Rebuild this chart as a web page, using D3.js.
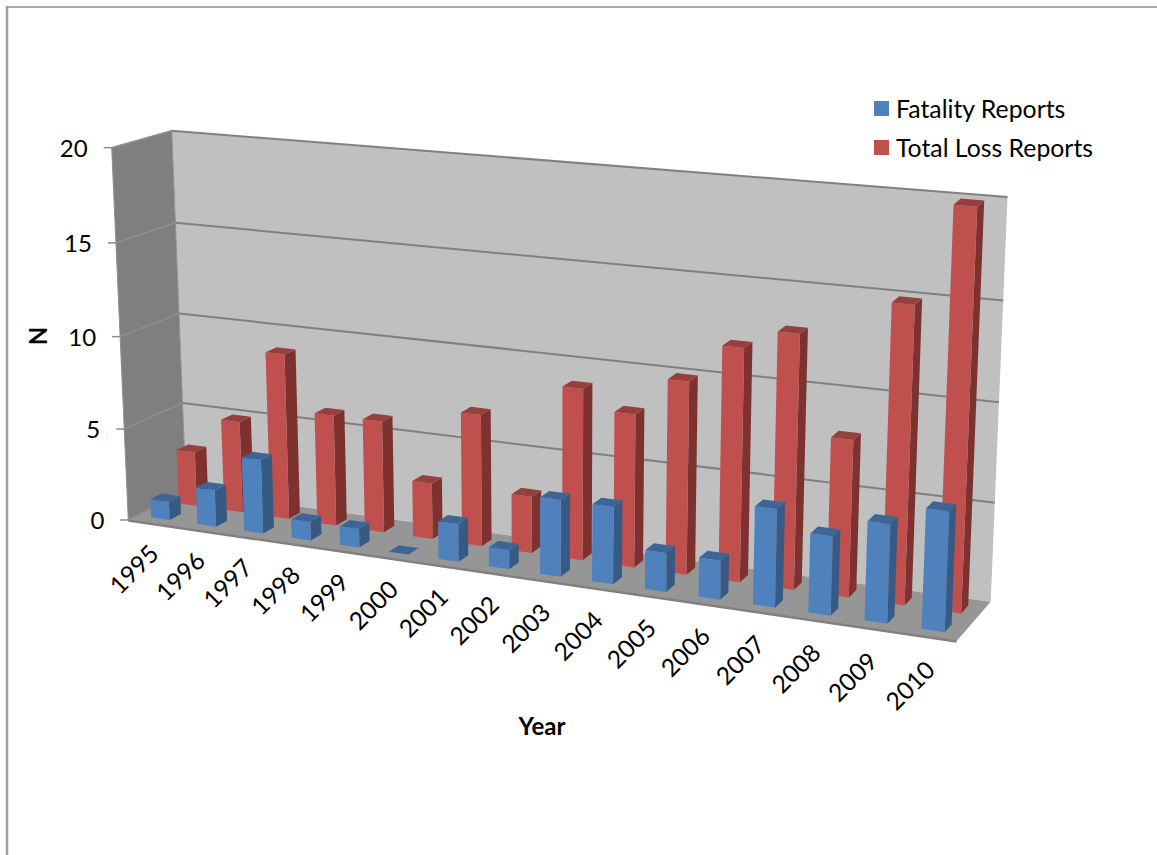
<!DOCTYPE html>
<html>
<head>
<meta charset="utf-8">
<script src="https://cdn.jsdelivr.net/npm/d3@7/dist/d3.min.js"></script>
<style>
  html, body { margin: 0; padding: 0; background: #fff; }
  svg { display: block; }
  text { font-family: Lato, "Open Sans", sans-serif; fill: #000; }
</style>
</head>
<body>
<svg id="chart" width="1157" height="855"></svg>
<script>
// Reports per year
const years = ["1995","1996","1997","1998","1999","2000","2001","2002","2003","2004","2005","2006","2007","2008","2009","2010"];
const fatalityReports = [1,2,4,1,1,0,2,1,4,4,2,2,5,4,5,6];
const totalLossReports = [3,5,9,6,6,3,7,3,9,8,10,12,13,8,15,20];
const seriesNames = ["Fatality Reports","Total Loss Reports"];
const valueTicks = [0,5,10,15,20];

const palette = {
  "Fatality Reports":   { front: "#4f81bd", side: "#375a84", top: "#3d6696" },
  "Total Loss Reports": { front: "#c0504d", side: "#7d3230", top: "#96403d" }
};

// Box corners: [x, y] keyed by left/right, bottom/top, front/back
const box = {
  lbf: [128.3, 520], lbb: [186, 491], ltf: [111.7, 147.7], ltb: [171.7, 130.7],
  rbf: [956.7, 641], rbb: [990.7, 601.7], rtf: [973, 228], rtb: [1007.5, 197]
};

// Perspective foreshortening along the category and value axes
const warpWith = k => t => t / (t + k * (1 - t));
const warp = warpWith(1.13);
const warpV = warpWith(1.03);

const lerp = (a, b, t) => [a[0] + (b[0] - a[0]) * t, a[1] + (b[1] - a[1]) * t];
function project(u, v, w) {
  const bf = lerp(box.lbf, box.rbf, u), bb = lerp(box.lbb, box.rbb, u);
  const tf = lerp(box.ltf, box.rtf, u), tb = lerp(box.ltb, box.rtb, u);
  return lerp(lerp(bf, tf, v), lerp(bb, tb, v), w);
}

const xBand = d3.scaleBand().domain(years).range([0, 1]).paddingInner(0.6).paddingOuter(0.3);
const valueScale = d3.scaleLinear().domain([0, 20]).range([0, 1]);
const depthBand = d3.scaleBand().domain(seriesNames).range([0, 1]).paddingInner(0.583).paddingOuter(0.333);

const svg = d3.select("#chart");
const line = d3.line();
const poly = pts => line(pts) + "Z";

// Page frame
svg.append("line").attr("x1", 6).attr("y1", 7).attr("x2", 1157).attr("y2", 7)
  .attr("stroke", "#8c8c8c").attr("stroke-width", 1.5);
svg.append("line").attr("x1", 7).attr("y1", 6).attr("x2", 7).attr("y2", 855)
  .attr("stroke", "#a0a0a0").attr("stroke-width", 2.5);

// Walls and floor
const walls = svg.append("g");
walls.append("path").attr("d", poly([box.ltb, box.rtb, box.rbb, box.lbb])).attr("fill", "#c0c0c0");
walls.append("path").attr("d", poly([box.ltf, box.ltb, box.lbb, box.lbf]))
  .attr("fill", "#7f7f7f").attr("stroke", "#8f8f8f").attr("stroke-width", 1);
walls.append("path").attr("d", poly([box.lbf, box.lbb, box.rbb, box.rbf])).attr("fill", "#969696");
walls.append("line")
  .attr("x1", box.lbf[0]).attr("y1", box.lbf[1] + 0.5)
  .attr("x2", box.rbf[0]).attr("y2", box.rbf[1] + 0.5)
  .attr("stroke", "#808080").attr("stroke-width", 2.5);

// Gridlines, side-wall rules, tick marks and value labels
const grid = svg.append("g");
valueTicks.forEach(t => {
  const v = warpV(valueScale(t));
  const a = project(0, v, 0), b = project(0, v, 1), c = project(1, v, 1);
  if (t > 0) {
    grid.append("path").attr("d", line([b, c])).attr("fill", "none")
      .attr("stroke", "#808080").attr("stroke-width", 2);
  }
  grid.append("path").attr("d", line([a, b])).attr("fill", "none")
    .attr("stroke", "#8f8f8f").attr("stroke-width", 1.5);
  grid.append("line").attr("x1", a[0] - 8).attr("y1", a[1]).attr("x2", a[0]).attr("y2", a[1])
    .attr("stroke", "#8c8c8c").attr("stroke-width", 1.5);
  grid.append("text").attr("x", a[0] - 24).attr("y", a[1] + 3)
    .attr("text-anchor", "end").attr("dominant-baseline", "middle")
    .attr("font-size", 24).text(t);
});

// Bars: back row first so the front row overlaps it
const seriesValues = { "Fatality Reports": fatalityReports, "Total Loss Reports": totalLossReports };
const rows = seriesNames.slice().reverse();
const bars = svg.append("g");
rows.forEach(name => {
  const w0 = depthBand(name), w1 = w0 + depthBand.bandwidth();
  const colours = palette[name];
  years.forEach((year, i) => {
    const u0 = warp(xBand(year)), u1 = warp(xBand(year) + xBand.bandwidth());
    const v = warpV(valueScale(seriesValues[name][i]));
    const g = bars.append("g");
    if (v > 0) {
      g.append("path").attr("fill", colours.side)
        .attr("d", poly([project(u1, 0, w0), project(u1, v, w0), project(u1, v, w1), project(u1, 0, w1)]));
      g.append("path").attr("fill", colours.front)
        .attr("d", poly([project(u0, 0, w0), project(u0, v, w0), project(u1, v, w0), project(u1, 0, w0)]));
    }
    g.append("path").attr("fill", colours.top)
      .attr("d", poly([project(u0, v, w0), project(u1, v, w0), project(u1, v, w1), project(u0, v, w1)]));
  });
});

// Category labels
const labels = svg.append("g");
years.forEach(year => {
  const u = warp(xBand(year) + xBand.bandwidth() / 2);
  const p = project(u, 0, 0);
  labels.append("text")
    .attr("transform", `translate(${p[0] + 9},${p[1] + 32 + 3 * u}) rotate(-45)`)
    .attr("text-anchor", "end").attr("font-size", 24.5).text(year);
});

// Axis titles
svg.append("text").attr("x", 542).attr("y", 729).attr("text-anchor", "middle")
  .attr("dominant-baseline", "middle").attr("font-size", 24).attr("font-weight", 700).text("Year");
svg.append("text").attr("transform", "translate(41,336) rotate(-90)").attr("text-anchor", "middle")
  .attr("dominant-baseline", "middle").attr("font-size", 24).attr("font-weight", 700).text("N");

// Legend
const legendRow = d3.scalePoint().domain(seriesNames).range([108.5, 147.5]);
seriesNames.forEach(name => {
  const y = legendRow(name);
  svg.append("rect").attr("x", 874).attr("y", y - 7.5).attr("width", 15).attr("height", 15)
    .attr("fill", palette[name].front);
  svg.append("text").attr("x", 896).attr("y", y + 3).attr("dominant-baseline", "middle")
    .attr("font-size", 24.8).text(name);
});
</script>
</body>
</html>
